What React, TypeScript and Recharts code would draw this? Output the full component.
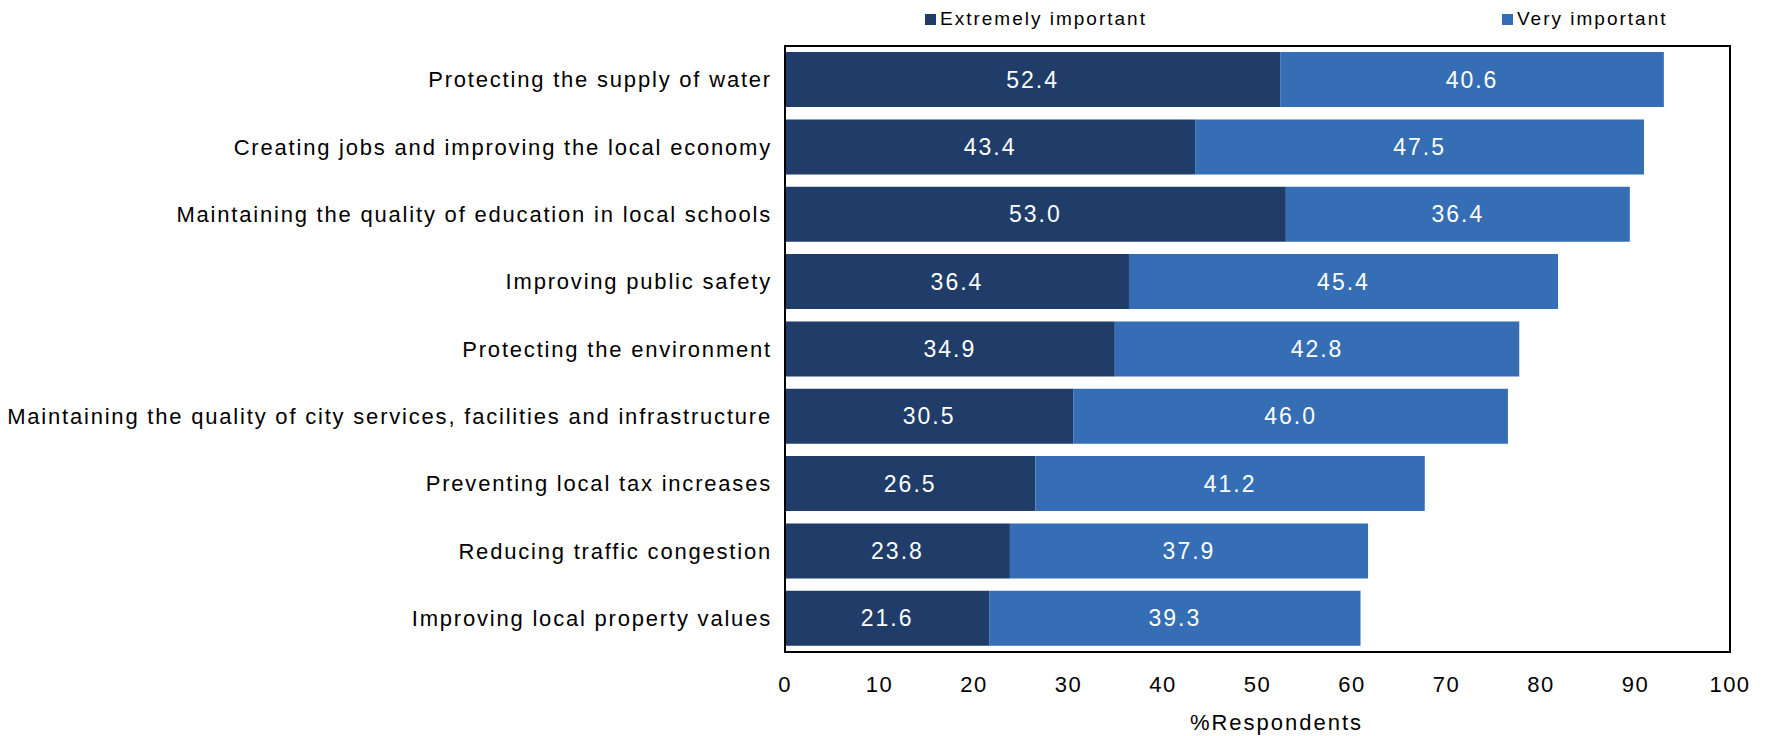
import {
  BarChart,
  Bar,
  XAxis,
  YAxis,
  Legend,
  LabelList,
  ReferenceArea,
} from "recharts";

const categories = [
  "Protecting the supply of water",
  "Creating jobs and improving the local economy",
  "Maintaining the quality of education in local schools",
  "Improving public safety",
  "Protecting the environment",
  "Maintaining the quality of city services, facilities and infrastructure",
  "Preventing local tax increases",
  "Reducing traffic congestion",
  "Improving local property values",
];

const extremelyImportant = [52.4, 43.4, 53.0, 36.4, 34.9, 30.5, 26.5, 23.8, 21.6];
const veryImportant = [40.6, 47.5, 36.4, 45.4, 42.8, 46.0, 41.2, 37.9, 39.3];

const xTicks = [0, 10, 20, 30, 40, 50, 60, 70, 80, 90, 100];

const DARK = "#1F3D68";
const LIGHT = "#356EB4";
const FONT = '"Liberation Sans", Arial, sans-serif';

const data = categories.map((name, i) => ({
  name,
  extremely: extremelyImportant[i],
  very: veryImportant[i],
}));

// legend squares sit far apart in the original
const legendLeft = [925, 1502];

function LegendBox(props: any) {
  const items = props.payload || [];
  return (
    <div style={{ position: "relative", height: 0 }}>
      {items.map((item: any, i: number) => (
        <div
          key={i}
          style={{
            position: "absolute",
            left: legendLeft[i],
            top: 8,
            display: "flex",
            alignItems: "center",
            whiteSpace: "nowrap",
            fontFamily: FONT,
            fontSize: 19,
            letterSpacing: 2,
            color: "#000",
            lineHeight: "22px",
          }}
        >
          <span
            style={{
              display: "inline-block",
              width: 11,
              height: 11,
              background: item.color,
              marginRight: 4,
            }}
          />
          {item.value}
        </div>
      ))}
    </div>
  );
}

function CategoryTick(props: any) {
  const { x, y, payload } = props;
  return (
    <text
      x={x}
      y={y}
      dy="0.355em"
      textAnchor="end"
      fontFamily={FONT}
      fontSize={22}
      letterSpacing={1.8}
      fill="#000"
    >
      {payload.value}
    </text>
  );
}

export default function App() {
  return (
    <div style={{ position: "absolute", left: 0, top: 0, width: 1767, height: 736, background: "#fff" }}>
      <BarChart
        width={1767}
        height={736}
        data={data}
        layout="vertical"
        margin={{ top: 46, right: 37, bottom: 0, left: 0 }}
        barCategoryGap="9%"
      >
        <XAxis
          type="number"
          domain={[0, 100]}
          ticks={xTicks}
          height={84}
          tickLine={false}
          tickSize={0}
          tickMargin={24}
          axisLine={{ stroke: "#000", strokeWidth: 2 }}
          tick={{ fill: "#000", fontSize: 22, fontFamily: FONT, letterSpacing: 1.5 }}
          label={{
            value: "%Respondents",
            position: "insideBottom",
            offset: 6,
            dx: 19,
            fill: "#000",
            fontSize: 22,
            fontFamily: FONT,
            letterSpacing: 2,
          }}
        />
        <YAxis
          type="category"
          dataKey="name"
          width={785}
          tickLine={false}
          tickSize={0}
          tickMargin={13}
          axisLine={{ stroke: "#000", strokeWidth: 2 }}
          tick={<CategoryTick />}
          interval={0}
        />
        <Legend
          verticalAlign="top"
          content={<LegendBox />}
          wrapperStyle={{ top: 0, left: 0, width: 1767, height: 0 }}
        />
        <Bar dataKey="extremely" name="Extremely important" stackId="a" fill={DARK} isAnimationActive={false}>
          <LabelList
            dataKey="extremely"
            position="center"
            fill="#fff"
            fontSize={23}
            fontFamily={FONT}
            letterSpacing={2}
            formatter={(v: any) => Number(v).toFixed(1)}
          />
        </Bar>
        <Bar dataKey="very" name="Very important" stackId="a" fill={LIGHT} isAnimationActive={false}>
          <LabelList
            dataKey="very"
            position="center"
            fill="#fff"
            fontSize={23}
            fontFamily={FONT}
            letterSpacing={2}
            formatter={(v: any) => Number(v).toFixed(1)}
          />
        </Bar>
        <ReferenceArea x1={0} x2={100} fill="none" stroke="#000" strokeWidth={2} ifOverflow="visible" />
      </BarChart>
    </div>
  );
}
